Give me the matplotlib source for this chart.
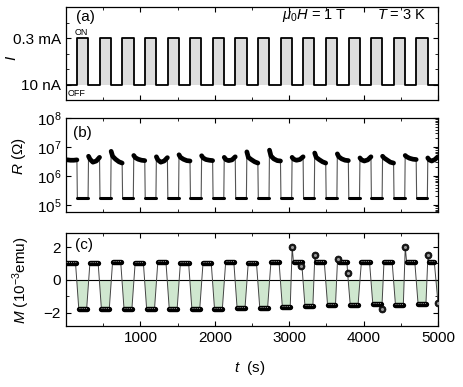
import matplotlib.pyplot as plt
import numpy as np
from matplotlib.ticker import MultipleLocator, LogLocator, NullFormatter

plt.rcParams.update({
    "font.family": ["Liberation Sans", "DejaVu Sans"],
    "mathtext.fontset": "custom",
    "mathtext.rm": "Liberation Sans",
    "mathtext.it": "Liberation Sans:italic",
    "font.size": 11, "xtick.labelsize": 11, "ytick.labelsize": 11,
    "xtick.direction": "in", "ytick.direction": "in",
    "xtick.top": True, "ytick.right": True,
    "xtick.major.size": 3.5, "ytick.major.size": 3.5,
    "xtick.minor.size": 2, "ytick.minor.size": 2,
    "axes.linewidth": 0.9,
})

# switching times (s): current ON at each t_on for ON_TIME seconds
t_on = [150, 454, 758, 1062, 1366, 1670, 1974, 2278, 2582, 2886, 3190, 3494,
        3798, 4102, 4406, 4710]
ON_TIME = 150
T_END = 5000

# (b) resistance in the high (OFF) state, five readings per interval
R_high = [
    [3.6e6, 3.6e6, 3.5e6, 3.5e6, 3.6e6],
    [4.8e6, 3.8e6, 3.0e6, 3.3e6, 4.4e6],
    [7.1e6, 4.8e6, 3.8e6, 3.1e6, 2.8e6],
    [5.1e6, 4.3e6, 3.8e6, 3.5e6, 3.4e6],
    [4.6e6, 3.6e6, 3.0e6, 3.3e6, 4.3e6],
    [5.4e6, 4.4e6, 3.8e6, 3.4e6, 3.3e6],
    [5.0e6, 4.2e6, 3.7e6, 3.5e6, 3.4e6],
    [4.4e6, 3.7e6, 3.4e6, 3.6e6, 4.6e6],
    [6.8e6, 4.4e6, 3.7e6, 3.1e6, 2.8e6],
    [7.8e6, 4.9e6, 3.9e6, 3.4e6, 3.3e6],
    [4.4e6, 3.8e6, 3.5e6, 3.7e6, 4.6e6],
    [6.2e6, 4.4e6, 3.7e6, 3.1e6, 2.8e6],
    [5.8e6, 4.6e6, 3.9e6, 3.5e6, 3.4e6],
    [4.2e6, 3.6e6, 3.3e6, 3.6e6, 4.6e6],
    [4.8e6, 4.2e6, 3.6e6, 3.0e6, 2.8e6],
    [5.1e6, 4.6e6, 4.1e6, 3.8e6, 3.7e6],
    [4.2e6, 3.6e6, 3.3e6, 3.7e6, 4.6e6],
]
R_FRAC = [0.02, 0.15, 0.4, 0.7, 0.98]
R_low = 1.7e5

# (c) magnetization (1e-3 emu), one level per interval
M_high = [1.05, 1.05, 1.07, 1.05, 1.07, 1.05, 1.05, 1.07, 1.05, 1.07, 1.07,
          1.08, 1.10, 1.07, 1.08, 1.10, 1.10]
M_low = [-1.76, -1.76, -1.76, -1.76, -1.76, -1.76, -1.74, -1.72, -1.68, -1.64,
         -1.60, -1.55, -1.50, -1.48, -1.50, -1.45]
M_out_t = [3040, 3165, 3345, 3650, 3785, 4245, 4560, 4865, 5000]
M_out = [1.98, 0.85, 1.50, 1.25, 0.42, -1.76, 2.00, 1.50, -1.40]
M_MARGIN = 22

t_off = [t + ON_TIME for t in t_on]
off_start = [0] + t_off
off_end = t_on + [T_END]

fig = plt.figure(figsize=(4.63, 3.87), dpi=100)
L, W = 0.1425, 0.8035
ax_a = fig.add_axes([L, 0.7416, W, 0.2403])
ax_b = fig.add_axes([L, 0.4522, W, 0.2429])
ax_c = fig.add_axes([L, 0.1576, W, 0.2403])

for ax in (ax_a, ax_b, ax_c):
    ax.set_xlim(0, T_END)
    ax.set_xticks([1000, 2000, 3000, 4000, 5000])
    ax.xaxis.set_minor_locator(MultipleLocator(500))
ax_a.tick_params(labelbottom=False)
ax_b.tick_params(labelbottom=False)

# (a) current square wave
ti, Ii = [0], [0]
for a, b in zip(t_on, t_off):
    ti += [a, a, b, b]
    Ii += [0, 1, 1, 0]
ti.append(T_END); Ii.append(0)
ti, Ii = np.array(ti), np.array(Ii)
ax_a.fill_between(ti, 0, Ii, color="#dddddd", lw=0)
ax_a.plot(ti, Ii, color="black", lw=1.3)
ax_a.set_ylim(-1/3, 5/3)
ax_a.set_yticks([0, 1])
ax_a.set_yticklabels(["10 nA", "0.3 mA"])
ax_a.yaxis.set_minor_locator(MultipleLocator(1/3))
ax_a.set_ylabel("$I$")
ax_a.yaxis.set_label_coords(-0.125, 0.45)
ax_a.text(0.027, 0.89, "(a)", transform=ax_a.transAxes, va="center", fontsize=11)
ax_a.text(0.755, 0.91, r"$\mu_0H$ = 1 T", transform=ax_a.transAxes,
          ha="right", va="center", fontsize=10.5)
ax_a.text(0.97, 0.91, r"$T$ = 3 K", transform=ax_a.transAxes,
          ha="right", va="center", fontsize=10.5)
ax_a.text(0.022, 0.73, "ON", transform=ax_a.transAxes, va="center", fontsize=6.5)
ax_a.text(0.004, 0.075, "OFF", transform=ax_a.transAxes, va="center", fontsize=6.5)

# (b) resistance
seg_t, seg_r = [], []
for j, vals in enumerate(R_high):
    s, e = off_start[j], off_end[j]
    tt = [s + f * (e - s) for f in R_FRAC]
    seg_t.append(tt); seg_r.append(vals)
    if j < len(t_on):
        seg_t.append([t_on[j] + 3, t_off[j] - 3]); seg_r.append([R_low, R_low])
all_t = np.concatenate(seg_t); all_r = np.concatenate(seg_r)
ax_b.plot(all_t, all_r, color="#555555", lw=0.8, zorder=2)
for tt, rr in zip(seg_t, seg_r):
    lw = 2.2 if rr[0] == R_low else 3.4
    ax_b.plot(tt, rr, color="black", lw=lw, solid_capstyle="round", zorder=3)
ax_b.set_yscale("log")
ax_b.set_ylim(10**4.76, 1e8)
ax_b.yaxis.set_major_locator(LogLocator(base=10, numticks=10))
ax_b.yaxis.set_minor_locator(LogLocator(base=10, subs=np.arange(2, 10), numticks=10))
ax_b.yaxis.set_minor_formatter(NullFormatter())
ax_b.tick_params(axis="y", which="minor", left=False, right=True)
ax_b.set_ylabel(r"$R$ ($\Omega$)")
ax_b.yaxis.set_label_coords(-0.102, 0.6)
ax_b.text(0.02, 0.84, "(b)", transform=ax_b.transAxes, va="center", fontsize=11)

# (c) magnetization
blobs = []
for j, m in enumerate(M_high):
    s = off_start[j] + M_MARGIN if j > 0 else -60
    e = off_end[j] - M_MARGIN if j < len(t_on) else off_end[j] - 50
    blobs.append((s, e, m))
for k, m in enumerate(M_low):
    blobs.append((t_on[k] + M_MARGIN, t_off[k] - M_MARGIN, m))
pts = [(s, m) for s, e, m in blobs] + [(e, m) for s, e, m in blobs]
pts += list(zip(M_out_t, M_out))
pts.sort()
mt = np.array([p[0] for p in pts]); mm = np.array([p[1] for p in pts])
ax_c.fill_between(mt, mm, 0, where=mm < 0, interpolate=True,
                  color="#cfe7cf", lw=0, zorder=1)
ax_c.axhline(0, color="black", lw=0.8, zorder=2)
ax_c.plot(mt, mm, color="#444444", lw=0.7, zorder=3)
for s, e, m in blobs:
    ax_c.plot([s, e], [m, m], color="black", lw=3.9, solid_capstyle="round", zorder=4)
    ax_c.plot([s, e], [m + 0.06, m + 0.06], color="#9a9a9a", lw=0.7,
              ls=(0, (1, 1.2)), zorder=5)
ax_c.plot(M_out_t, M_out, "o", ms=5, mfc="#1a1a1a", mec="black", mew=0.5, zorder=6)
ax_c.plot(M_out_t, M_out, "o", ms=1.2, color="#999999", zorder=7)
ax_c.set_ylim(-2.8, 2.85)
ax_c.set_yticks([-2, 0, 2])
ax_c.yaxis.set_minor_locator(MultipleLocator(1))
ax_c.set_ylabel(r"$M$ (10$^{-3}$emu)")
ax_c.yaxis.set_label_coords(-0.09, 0.49)
ax_c.text(0.024, 0.87, "(c)", transform=ax_c.transAxes, va="center", fontsize=11)
ax_c.set_xlabel(r"$t$  (s)")
ax_c.xaxis.set_label_coords(0.495, -0.36)

fig.savefig("out.png", dpi=100)
